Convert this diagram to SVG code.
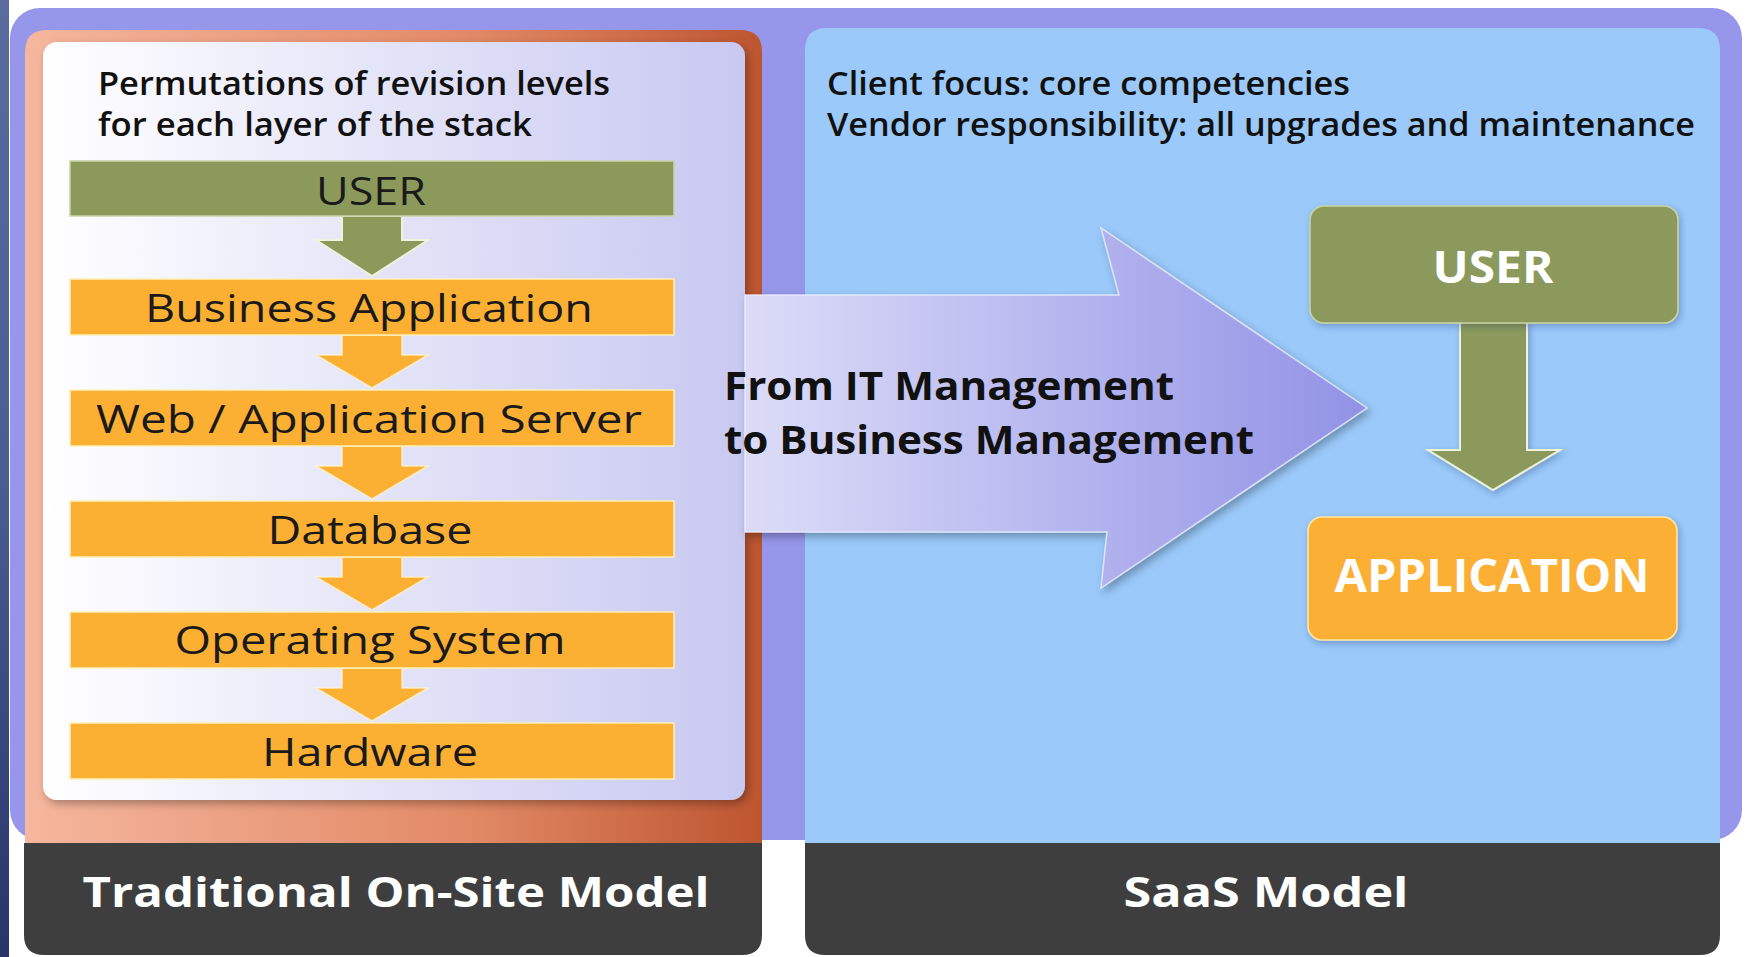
<svg xmlns="http://www.w3.org/2000/svg" width="1745" height="957" viewBox="0 0 1745 957">
<defs>
<style>
.t{font-family:"Open Sans","Noto Sans","Liberation Sans",sans-serif}
.hdr{font-size:33px;font-weight:600;fill:#111}
.stk{font-size:38px;font-weight:400;fill:#1a1a1a}
.big{font-size:40px;font-weight:700;fill:#111}
.wh{font-weight:700;fill:#fff}
.bar-o{fill:#fbb034;stroke:#fff0b8;stroke-width:1.5}
.bar-g{fill:#8b9a5b;stroke:#c9d3a6;stroke-width:1.5}
.arr-o{fill:#fbb034;stroke:#fff4d0;stroke-width:1.5;stroke-opacity:0.8}
.arr-g{fill:#8b9a5b;stroke:#eef3dc;stroke-width:2}
</style>
<linearGradient id="gStrip" x1="0" y1="0" x2="0" y2="1">
<stop offset="0" stop-color="#5a6c9e"/><stop offset="0.5" stop-color="#4a5d92"/><stop offset="1" stop-color="#28346a"/>
</linearGradient>
<linearGradient id="gOrange" x1="0" y1="0" x2="1" y2="0">
<stop offset="0" stop-color="#f5b79e"/><stop offset="0.6" stop-color="#e28a66"/><stop offset="1" stop-color="#bd5530"/>
</linearGradient>
<linearGradient id="gWhite" x1="0" y1="0" x2="1" y2="0">
<stop offset="0" stop-color="#ffffff"/><stop offset="1" stop-color="#c8c8f1"/>
</linearGradient>
<linearGradient id="gArrow" x1="0" y1="0" x2="1" y2="0">
<stop offset="0" stop-color="#dcdcf8"/><stop offset="1" stop-color="#9292e6"/>
</linearGradient>
<filter id="sh" x="-10%" y="-10%" width="125%" height="130%">
<feDropShadow dx="3" dy="4" stdDeviation="4" flood-color="#000" flood-opacity="0.3"/>
</filter>
<filter id="shs" x="-10%" y="-20%" width="125%" height="150%">
<feDropShadow dx="2" dy="3" stdDeviation="3" flood-color="#203060" flood-opacity="0.3"/>
</filter>
</defs>

<rect x="0" y="0" width="1745" height="957" fill="#ffffff"/>
<rect x="0" y="0" width="9" height="957" fill="url(#gStrip)"/>

<g id="frame">
<rect x="10" y="8" width="1732" height="832" rx="30" fill="#9696ea"/>
</g>

<g id="panel-traditional">
<path d="M25,843 V52 Q25,30 47,30 H740 Q762,30 762,52 V843 Z" fill="url(#gOrange)"/>
<rect x="43" y="42" width="702" height="758" rx="14" fill="url(#gWhite)" filter="url(#sh)"/>
<path d="M24,843 H762 V935 Q762,955 742,955 H44 Q24,955 24,935 Z" fill="#3e3e3e"/>
<text class="t wh" x="396" y="907" font-size="42" text-anchor="middle" textLength="627" lengthAdjust="spacingAndGlyphs">Traditional On-Site Model</text>
<text class="t hdr" x="98" y="95" textLength="512" lengthAdjust="spacingAndGlyphs">Permutations of revision levels</text>
<text class="t hdr" x="98" y="136" textLength="434" lengthAdjust="spacingAndGlyphs">for each layer of the stack</text>
</g>

<g id="panel-saas">
<path d="M805,843 V50 Q805,28 827,28 H1698 Q1720,28 1720,50 V843 Z" fill="#9ac9fa"/>
<path d="M805,843 H1720 V935 Q1720,955 1700,955 H825 Q805,955 805,935 Z" fill="#3e3e3e"/>
<text class="t wh" x="1266" y="907" font-size="42" text-anchor="middle" textLength="285" lengthAdjust="spacingAndGlyphs">SaaS Model</text>
<text class="t hdr" x="827" y="95" textLength="523" lengthAdjust="spacingAndGlyphs">Client focus: core competencies</text>
<text class="t hdr" x="827" y="136" textLength="868" lengthAdjust="spacingAndGlyphs">Vendor responsibility: all upgrades and maintenance</text>
</g>

<g id="connectors">
<g id="transition-arrow" filter="url(#sh)">
<polygon points="745,295 1119,295 1101,228 1367,408 1101,588 1107,532 745,532" fill="url(#gArrow)" stroke="#eeeeff" stroke-width="1.5" stroke-opacity="0.8"/>
</g>
<polygon class="arr-g" points="342,216 402,216 402,240 428,240 372,276 316,240 342,240"/>
<polygon class="arr-o" points="342,335 402,335 402,355 428,355 372,388 316,355 342,355"/>
<polygon class="arr-o" points="342,446 402,446 402,466 428,466 372,499 316,466 342,466"/>
<polygon class="arr-o" points="342,557 402,557 402,577 428,577 372,610 316,577 342,577"/>
<polygon class="arr-o" points="342,668 402,668 402,688 428,688 372,721 316,688 342,688"/>
<g filter="url(#shs)">
<polygon class="arr-g" points="1460,322 1527,322 1527,450 1560,450 1493,490 1428,450 1460,450"/>
</g>
</g>

<g id="transition-label">
<text class="t big" x="724" y="400" textLength="450" lengthAdjust="spacingAndGlyphs">From IT Management</text>
<text class="t big" x="724" y="454" textLength="530" lengthAdjust="spacingAndGlyphs">to Business Management</text>
</g>

<g id="node-user-left">
<rect class="bar-g" x="70" y="161" width="604" height="55"/>
<text class="t stk" x="371" y="205" text-anchor="middle" textLength="110" lengthAdjust="spacingAndGlyphs">USER</text>
</g>
<g id="node-business-application">
<rect class="bar-o" x="70" y="279" width="604" height="56"/>
<text class="t stk" x="369" y="322" text-anchor="middle" textLength="448" lengthAdjust="spacingAndGlyphs">Business Application</text>
</g>
<g id="node-web-server">
<rect class="bar-o" x="70" y="390" width="604" height="56"/>
<text class="t stk" x="369" y="433" text-anchor="middle" textLength="546" lengthAdjust="spacingAndGlyphs">Web / Application Server</text>
</g>
<g id="node-database">
<rect class="bar-o" x="70" y="501" width="604" height="56"/>
<text class="t stk" x="370" y="544" text-anchor="middle" textLength="205" lengthAdjust="spacingAndGlyphs">Database</text>
</g>
<g id="node-operating-system">
<rect class="bar-o" x="70" y="612" width="604" height="56"/>
<text class="t stk" x="370" y="654" text-anchor="middle" textLength="391" lengthAdjust="spacingAndGlyphs">Operating System</text>
</g>
<g id="node-hardware">
<rect class="bar-o" x="70" y="723" width="604" height="56"/>
<text class="t stk" x="370" y="766" text-anchor="middle" textLength="216" lengthAdjust="spacingAndGlyphs">Hardware</text>
</g>

<g id="node-user-right">
<rect x="1310" y="206" width="368" height="117" rx="14" fill="#8b9a5b" stroke="#c9d3a6" stroke-width="1.5" filter="url(#shs)"/>
<text class="t wh" x="1493" y="283" font-size="44" text-anchor="middle" textLength="121" lengthAdjust="spacingAndGlyphs">USER</text>
</g>
<g id="node-application">
<rect x="1308" y="517" width="369" height="123" rx="14" fill="#fbb034" stroke="#ffe7a8" stroke-width="1.5" filter="url(#shs)"/>
<text class="t wh" x="1492" y="592" font-size="46" text-anchor="middle" textLength="315" lengthAdjust="spacingAndGlyphs">APPLICATION</text>
</g>
</svg>
